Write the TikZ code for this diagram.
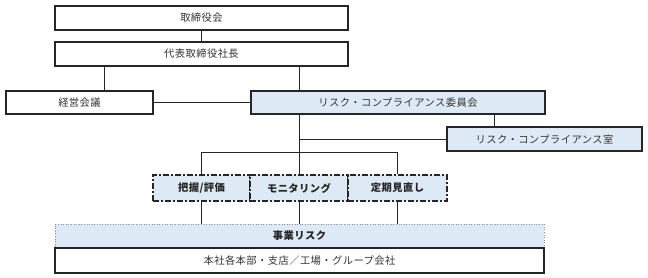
\documentclass[tikz,border=0pt]{standalone}
\usepackage{fontspec}
\setmainfont{Noto Sans CJK JP}
\newfontfamily\jpfont[LetterSpace=4]{Noto Sans CJK JP}
\begin{document}
\begin{tikzpicture}[x=1pt,y=-1pt,
  box/.style={draw=black!85,line width=1.1pt,minimum height=24pt,inner sep=0pt,font=\jpfont\fontsize{10.3}{12}\selectfont,text=black!80},
  bluebox/.style={box,fill=lightblue},
  dashbox/.style={draw=black!85,line width=1.7pt,dash pattern=on 6pt off 2pt on 2pt off 2pt,fill=lightblue,minimum height=26pt,inner sep=0pt,font=\jpfont\fontsize{10.3}{12}\selectfont\bfseries,text=black!85},
  conn/.style={draw=black!85,line width=0.9pt}]
\definecolor{lightblue}{RGB}{221,234,246}
\useasboundingbox (0,0) rectangle (648,278);
\node[box,minimum width=293pt] (board) at (201.5,18) {取締役会};
\node[box,minimum width=293pt] (ceo) at (201.5,54) {代表取締役社長};
\node[box,minimum width=147pt,minimum height=23pt] (mgmt) at (79.5,102.5) {経営会議};
\node[bluebox,minimum width=294pt,minimum height=23pt] (comm) at (398,102.5) {リスク・コンプライアンス委員会};
\node[bluebox,minimum width=195pt] (office) at (544.5,139) {リスク・コンプライアンス室};
\node[dashbox,minimum width=97pt] (d1) at (201.5,188) {把握/評価};
\node[dashbox,minimum width=98pt] (d2) at (299,188) {モニタリング};
\node[dashbox,minimum width=99pt] (d3) at (397.5,188) {定期見直し};
\node[draw=black!45,dotted,line width=0.6pt,fill=lightblue,minimum width=489pt,minimum height=24pt,inner sep=0pt,font=\jpfont\fontsize{10.3}{12}\selectfont\bfseries,text=black!85] (risk) at (299.5,236) {事業リスク};
\node[box,minimum width=489pt,minimum height=25pt] (hq) at (299.5,260.5) {本社各本部・支店／工場・グループ会社};
\draw[draw=black!85,line width=1.1pt] (risk.south west) -- (risk.south east);
% connectors
\draw[conn] (board.south) -- (ceo.north);
\draw[conn] (ceo.south -| mgmt.north) ++(25,0) coordinate (c1) -- (c1 |- mgmt.north);
\draw[conn] (ceo.south -| comm.north west) ++(49,0) coordinate (c2) -- (c2 |- comm.north);
\draw[conn] (mgmt.east) -- (comm.west);
\draw[conn] (comm.south -| office.north) ++(-50,0) coordinate (c3) -- (c3 |- office.north);
\coordinate (c4) at (c2 |- comm.south);
\draw[conn] (c4) -- (c4 |- d2.north);
\draw[conn] (c4 |- office.west) -- (office.west);
\coordinate (bar) at (0,152);
\draw[conn] (d1.north |- bar) -- (d3.north |- bar);
\draw[conn] (d1.north |- bar) -- (d1.north);
\draw[conn] (d3.north |- bar) -- (d3.north);
\draw[conn] (d1.south) -- (d1.south |- risk.north);
\draw[conn] (d2.south) -- (d2.south |- risk.north);
\draw[conn] (d3.south) -- (d3.south |- risk.north);
\end{tikzpicture}
\end{document}
